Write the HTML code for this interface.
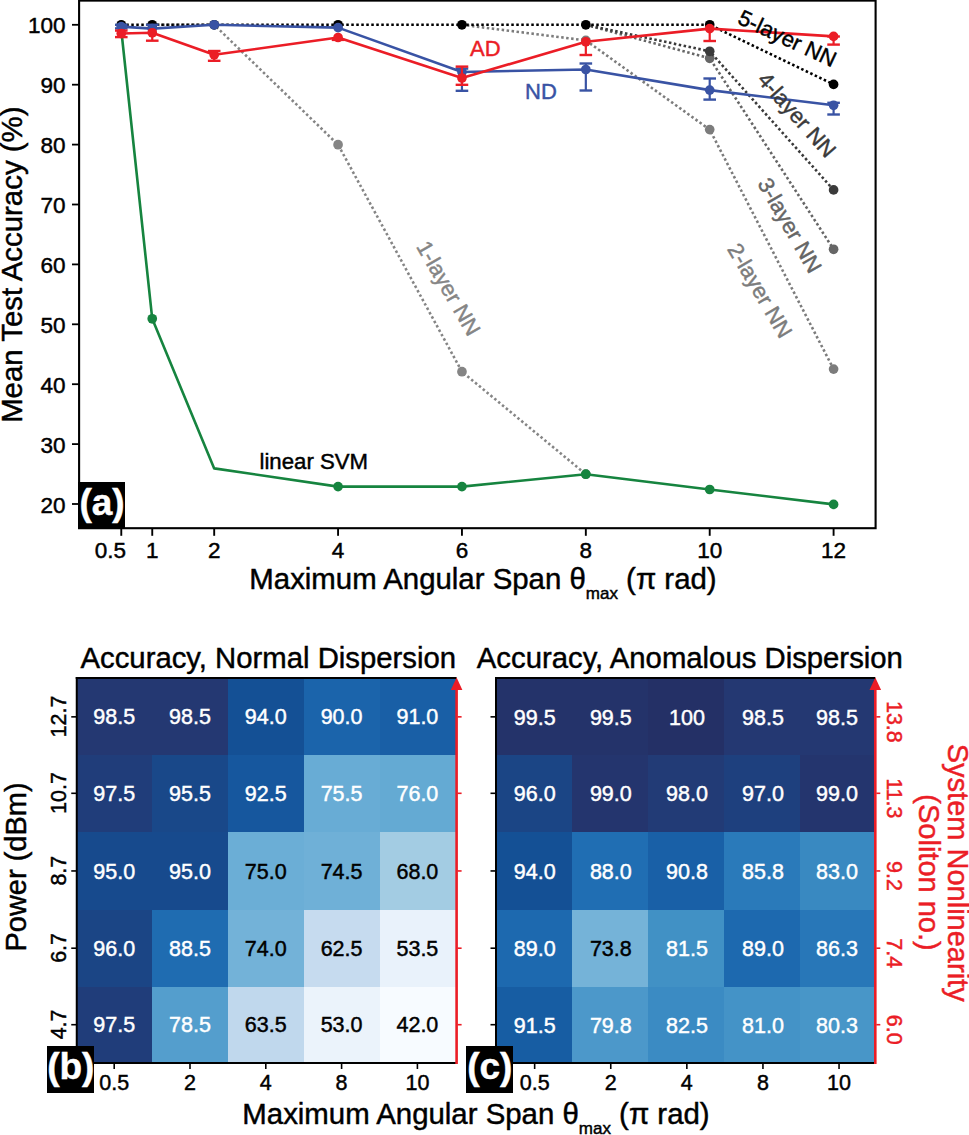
<!DOCTYPE html>
<html><head><meta charset="utf-8"><style>
html,body{margin:0;padding:0;background:#fff;width:969px;height:1135px;overflow:hidden}
svg{display:block}
text{font-family:"Liberation Sans", sans-serif}
</style></head><body>
<svg width="969" height="1135" viewBox="0 0 969 1135">
<rect width="969" height="1135" fill="#fff"/>
<polyline points="152.25,24.80 214.19,24.80 338.07,144.70 461.95,371.70 585.83,474.20" fill="none" stroke="#858585" stroke-width="2.6" stroke-dasharray="2.5 2.5" stroke-linejoin="round"/>
<circle cx="338.07" cy="144.70" r="4.85" fill="#858585"/>
<circle cx="461.95" cy="371.70" r="4.85" fill="#858585"/>
<circle cx="585.83" cy="474.20" r="4.85" fill="#858585"/>
<polyline points="461.95,24.80 585.83,40.40 709.71,129.60 833.59,369.10" fill="none" stroke="#7c7c7c" stroke-width="2.6" stroke-dasharray="2.5 2.5" stroke-linejoin="round"/>
<circle cx="585.83" cy="40.40" r="4.85" fill="#7c7c7c"/>
<circle cx="709.71" cy="129.60" r="4.85" fill="#7c7c7c"/>
<circle cx="833.59" cy="369.10" r="4.85" fill="#7c7c7c"/>
<polyline points="585.83,24.80 709.71,58.30 833.59,249.30" fill="none" stroke="#666666" stroke-width="2.6" stroke-dasharray="2.5 2.5" stroke-linejoin="round"/>
<circle cx="709.71" cy="58.30" r="4.85" fill="#666666"/>
<circle cx="833.59" cy="249.30" r="4.85" fill="#666666"/>
<polyline points="585.83,24.80 709.71,51.30 833.59,189.90" fill="none" stroke="#3a3a3a" stroke-width="2.6" stroke-dasharray="2.5 2.5" stroke-linejoin="round"/>
<circle cx="709.71" cy="51.30" r="4.85" fill="#3a3a3a"/>
<circle cx="833.59" cy="189.90" r="4.85" fill="#3a3a3a"/>
<polyline points="121.28,24.80 152.25,24.80 214.19,24.80 338.07,24.80 461.95,24.80 585.83,24.80 709.71,24.80 833.59,84.40" fill="none" stroke="#000" stroke-width="2.6" stroke-dasharray="2.5 2.5" stroke-linejoin="round"/>
<circle cx="121.28" cy="24.80" r="4.85" fill="#000"/>
<circle cx="152.25" cy="24.80" r="4.85" fill="#000"/>
<circle cx="214.19" cy="24.80" r="4.85" fill="#000"/>
<circle cx="338.07" cy="24.80" r="4.85" fill="#000"/>
<circle cx="461.95" cy="24.80" r="4.85" fill="#000"/>
<circle cx="585.83" cy="24.80" r="4.85" fill="#000"/>
<circle cx="709.71" cy="24.80" r="4.85" fill="#000"/>
<circle cx="833.59" cy="84.40" r="4.85" fill="#000"/>
<polyline points="121.28,30.00 152.25,318.80 214.19,468.40 338.07,486.60 461.95,486.60 585.83,474.20 709.71,489.50 833.59,504.40" fill="none" stroke="#16843f" stroke-width="2.6" stroke-linejoin="round"/>
<circle cx="152.25" cy="318.80" r="4.85" fill="#16843f"/>
<circle cx="338.07" cy="486.60" r="4.85" fill="#16843f"/>
<circle cx="461.95" cy="486.60" r="4.85" fill="#16843f"/>
<circle cx="585.83" cy="474.20" r="4.85" fill="#16843f"/>
<circle cx="709.71" cy="489.50" r="4.85" fill="#16843f"/>
<circle cx="833.59" cy="504.40" r="4.85" fill="#16843f"/>
<polyline points="121.28,26.60 152.25,28.60 214.19,24.80 338.07,27.60 461.95,72.00 585.83,69.50 709.71,90.10 833.59,105.30" fill="none" stroke="#3953a4" stroke-width="2.6" stroke-linejoin="round"/>
<line x1="121.28" y1="24.80" x2="121.28" y2="28.40" stroke="#3953a4" stroke-width="2.2"/>
<line x1="114.98" y1="24.80" x2="127.58" y2="24.80" stroke="#3953a4" stroke-width="2.4"/>
<line x1="114.98" y1="28.40" x2="127.58" y2="28.40" stroke="#3953a4" stroke-width="2.4"/>
<line x1="152.25" y1="24.80" x2="152.25" y2="28.80" stroke="#3953a4" stroke-width="2.2"/>
<line x1="145.95" y1="24.80" x2="158.55" y2="24.80" stroke="#3953a4" stroke-width="2.4"/>
<line x1="461.95" y1="68.60" x2="461.95" y2="90.80" stroke="#3953a4" stroke-width="2.2"/>
<line x1="455.65" y1="68.60" x2="468.25" y2="68.60" stroke="#3953a4" stroke-width="2.4"/>
<line x1="455.65" y1="90.80" x2="468.25" y2="90.80" stroke="#3953a4" stroke-width="2.4"/>
<line x1="585.83" y1="63.50" x2="585.83" y2="90.50" stroke="#3953a4" stroke-width="2.2"/>
<line x1="579.53" y1="63.50" x2="592.13" y2="63.50" stroke="#3953a4" stroke-width="2.4"/>
<line x1="579.53" y1="90.50" x2="592.13" y2="90.50" stroke="#3953a4" stroke-width="2.4"/>
<line x1="709.71" y1="78.50" x2="709.71" y2="99.60" stroke="#3953a4" stroke-width="2.2"/>
<line x1="703.41" y1="78.50" x2="716.01" y2="78.50" stroke="#3953a4" stroke-width="2.4"/>
<line x1="703.41" y1="99.60" x2="716.01" y2="99.60" stroke="#3953a4" stroke-width="2.4"/>
<line x1="833.59" y1="102.80" x2="833.59" y2="114.50" stroke="#3953a4" stroke-width="2.2"/>
<line x1="827.29" y1="102.80" x2="839.89" y2="102.80" stroke="#3953a4" stroke-width="2.4"/>
<line x1="827.29" y1="114.50" x2="839.89" y2="114.50" stroke="#3953a4" stroke-width="2.4"/>
<circle cx="121.28" cy="26.60" r="4.85" fill="#3953a4"/>
<circle cx="152.25" cy="28.60" r="4.85" fill="#3953a4"/>
<circle cx="214.19" cy="24.80" r="4.85" fill="#3953a4"/>
<circle cx="338.07" cy="27.60" r="4.85" fill="#3953a4"/>
<circle cx="461.95" cy="72.00" r="4.85" fill="#3953a4"/>
<circle cx="585.83" cy="69.50" r="4.85" fill="#3953a4"/>
<circle cx="709.71" cy="90.10" r="4.85" fill="#3953a4"/>
<circle cx="833.59" cy="105.30" r="4.85" fill="#3953a4"/>
<polyline points="121.28,33.50 152.25,32.80 214.19,54.80 338.07,37.50 461.95,78.00 585.83,41.80 709.71,28.60 833.59,36.40" fill="none" stroke="#eb1d26" stroke-width="2.6" stroke-linejoin="round"/>
<line x1="121.28" y1="30.60" x2="121.28" y2="37.10" stroke="#eb1d26" stroke-width="2.2"/>
<line x1="114.98" y1="30.60" x2="127.58" y2="30.60" stroke="#eb1d26" stroke-width="2.4"/>
<line x1="114.98" y1="37.10" x2="127.58" y2="37.10" stroke="#eb1d26" stroke-width="2.4"/>
<line x1="152.25" y1="32.80" x2="152.25" y2="40.70" stroke="#eb1d26" stroke-width="2.2"/>
<line x1="145.95" y1="40.70" x2="158.55" y2="40.70" stroke="#eb1d26" stroke-width="2.4"/>
<line x1="214.19" y1="51.00" x2="214.19" y2="60.80" stroke="#eb1d26" stroke-width="2.2"/>
<line x1="207.89" y1="51.00" x2="220.49" y2="51.00" stroke="#eb1d26" stroke-width="2.4"/>
<line x1="207.89" y1="60.80" x2="220.49" y2="60.80" stroke="#eb1d26" stroke-width="2.4"/>
<line x1="338.07" y1="37.50" x2="338.07" y2="39.90" stroke="#eb1d26" stroke-width="2.2"/>
<line x1="331.77" y1="39.90" x2="344.37" y2="39.90" stroke="#eb1d26" stroke-width="2.4"/>
<line x1="461.95" y1="66.60" x2="461.95" y2="84.80" stroke="#eb1d26" stroke-width="2.2"/>
<line x1="455.65" y1="66.60" x2="468.25" y2="66.60" stroke="#eb1d26" stroke-width="2.4"/>
<line x1="455.65" y1="84.80" x2="468.25" y2="84.80" stroke="#eb1d26" stroke-width="2.4"/>
<line x1="585.83" y1="41.80" x2="585.83" y2="55.00" stroke="#eb1d26" stroke-width="2.2"/>
<line x1="579.53" y1="55.00" x2="592.13" y2="55.00" stroke="#eb1d26" stroke-width="2.4"/>
<line x1="709.71" y1="28.60" x2="709.71" y2="41.00" stroke="#eb1d26" stroke-width="2.2"/>
<line x1="703.41" y1="41.00" x2="716.01" y2="41.00" stroke="#eb1d26" stroke-width="2.4"/>
<line x1="833.59" y1="36.50" x2="833.59" y2="44.60" stroke="#eb1d26" stroke-width="2.2"/>
<line x1="827.29" y1="36.50" x2="839.89" y2="36.50" stroke="#eb1d26" stroke-width="2.4"/>
<line x1="827.29" y1="44.60" x2="839.89" y2="44.60" stroke="#eb1d26" stroke-width="2.4"/>
<circle cx="121.28" cy="33.50" r="4.85" fill="#eb1d26"/>
<circle cx="152.25" cy="32.80" r="4.85" fill="#eb1d26"/>
<circle cx="214.19" cy="54.80" r="4.85" fill="#eb1d26"/>
<circle cx="338.07" cy="37.50" r="4.85" fill="#eb1d26"/>
<circle cx="461.95" cy="78.00" r="4.85" fill="#eb1d26"/>
<circle cx="585.83" cy="41.80" r="4.85" fill="#eb1d26"/>
<circle cx="709.71" cy="28.60" r="4.85" fill="#eb1d26"/>
<circle cx="833.59" cy="36.40" r="4.85" fill="#eb1d26"/>
<rect x="79.1" y="0.6" width="796.5" height="527.6" fill="none" stroke="#000" stroke-width="2.1"/>
<line x1="72" y1="504.00" x2="79" y2="504.00" stroke="#000" stroke-width="1.8"/>
<text stroke="#000" stroke-width="0.45" x="65.5" y="512.60" text-anchor="end" font-size="22.5">20</text>
<line x1="72" y1="444.10" x2="79" y2="444.10" stroke="#000" stroke-width="1.8"/>
<text stroke="#000" stroke-width="0.45" x="65.5" y="452.70" text-anchor="end" font-size="22.5">30</text>
<line x1="72" y1="384.20" x2="79" y2="384.20" stroke="#000" stroke-width="1.8"/>
<text stroke="#000" stroke-width="0.45" x="65.5" y="392.80" text-anchor="end" font-size="22.5">40</text>
<line x1="72" y1="324.30" x2="79" y2="324.30" stroke="#000" stroke-width="1.8"/>
<text stroke="#000" stroke-width="0.45" x="65.5" y="332.90" text-anchor="end" font-size="22.5">50</text>
<line x1="72" y1="264.40" x2="79" y2="264.40" stroke="#000" stroke-width="1.8"/>
<text stroke="#000" stroke-width="0.45" x="65.5" y="273.00" text-anchor="end" font-size="22.5">60</text>
<line x1="72" y1="204.50" x2="79" y2="204.50" stroke="#000" stroke-width="1.8"/>
<text stroke="#000" stroke-width="0.45" x="65.5" y="213.10" text-anchor="end" font-size="22.5">70</text>
<line x1="72" y1="144.60" x2="79" y2="144.60" stroke="#000" stroke-width="1.8"/>
<text stroke="#000" stroke-width="0.45" x="65.5" y="153.20" text-anchor="end" font-size="22.5">80</text>
<line x1="72" y1="84.70" x2="79" y2="84.70" stroke="#000" stroke-width="1.8"/>
<text stroke="#000" stroke-width="0.45" x="65.5" y="93.30" text-anchor="end" font-size="22.5">90</text>
<line x1="72" y1="24.80" x2="79" y2="24.80" stroke="#000" stroke-width="1.8"/>
<text stroke="#000" stroke-width="0.45" x="65.5" y="33.40" text-anchor="end" font-size="22.5">100</text>
<line x1="121.28" y1="528" x2="121.28" y2="535.8" stroke="#000" stroke-width="1.9"/>
<text stroke="#000" stroke-width="0.45" x="110.50" y="557.5" text-anchor="middle" font-size="22.5">0.5</text>
<line x1="152.25" y1="528" x2="152.25" y2="535.8" stroke="#000" stroke-width="1.9"/>
<text stroke="#000" stroke-width="0.45" x="152.25" y="557.5" text-anchor="middle" font-size="22.5">1</text>
<line x1="214.19" y1="528" x2="214.19" y2="535.8" stroke="#000" stroke-width="1.9"/>
<text stroke="#000" stroke-width="0.45" x="214.19" y="557.5" text-anchor="middle" font-size="22.5">2</text>
<line x1="338.07" y1="528" x2="338.07" y2="535.8" stroke="#000" stroke-width="1.9"/>
<text stroke="#000" stroke-width="0.45" x="338.07" y="557.5" text-anchor="middle" font-size="22.5">4</text>
<line x1="461.95" y1="528" x2="461.95" y2="535.8" stroke="#000" stroke-width="1.9"/>
<text stroke="#000" stroke-width="0.45" x="461.95" y="557.5" text-anchor="middle" font-size="22.5">6</text>
<line x1="585.83" y1="528" x2="585.83" y2="535.8" stroke="#000" stroke-width="1.9"/>
<text stroke="#000" stroke-width="0.45" x="585.83" y="557.5" text-anchor="middle" font-size="22.5">8</text>
<line x1="709.71" y1="528" x2="709.71" y2="535.8" stroke="#000" stroke-width="1.9"/>
<text stroke="#000" stroke-width="0.45" x="709.71" y="557.5" text-anchor="middle" font-size="22.5">10</text>
<line x1="833.59" y1="528" x2="833.59" y2="535.8" stroke="#000" stroke-width="1.9"/>
<text stroke="#000" stroke-width="0.45" x="833.59" y="557.5" text-anchor="middle" font-size="22.5">12</text>
<text stroke="#000" stroke-width="0.45" x="0" y="0" transform="translate(22.2,264.7) rotate(-90)" text-anchor="middle" font-size="29.4">Mean Test Accuracy (%)</text>
<text stroke="#000" stroke-width="0.45" x="249.3" y="588.9" font-size="29.4">Maximum Angular Span θ<tspan font-size="17" dy="10">max</tspan><tspan dy="-10"> (π rad)</tspan></text>
<text stroke="#000" stroke-width="0.45" x="259.5" y="468.8" font-size="22.2">linear SVM</text>
<text stroke="#eb1d26" stroke-width="0.45" x="470" y="56" font-size="22" fill="#eb1d26">AD</text>
<text stroke="#3953a4" stroke-width="0.45" x="525" y="98.7" font-size="22" fill="#3953a4">ND</text>
<text stroke="#000" stroke-width="0.45" x="0" y="0" transform="translate(736.5,23) rotate(25)" font-size="22" fill="#000">5-layer NN</text>
<text stroke="#3a3a3a" stroke-width="0.45" x="0" y="0" transform="translate(756.4,80.5) rotate(48.5)" font-size="22" fill="#3a3a3a">4-layer NN</text>
<text stroke="#666666" stroke-width="0.45" x="0" y="0" transform="translate(757,183.6) rotate(60)" font-size="22" fill="#666666">3-layer NN</text>
<text stroke="#7c7c7c" stroke-width="0.45" x="0" y="0" transform="translate(726.8,249) rotate(59.5)" font-size="22" fill="#7c7c7c">2-layer NN</text>
<text stroke="#858585" stroke-width="0.45" x="0" y="0" transform="translate(415.7,246.5) rotate(60)" font-size="22" fill="#858585">1-layer NN</text>
<rect x="78" y="482" width="47" height="47" fill="#000"/>
<text stroke="#fff" stroke-width="0.45" x="102" y="514.9" text-anchor="middle" font-size="37" font-weight="bold" fill="#fff">(a)</text>
<rect x="76.30" y="679.10" width="76.10" height="75.80" fill="#243872" shape-rendering="crispEdges"/>
<text stroke="#fff" stroke-width="0.45" x="114.20" y="724.45" text-anchor="middle" font-size="21.5" fill="#fff">98.5</text>
<rect x="152.10" y="679.10" width="76.10" height="75.80" fill="#243872" shape-rendering="crispEdges"/>
<text stroke="#fff" stroke-width="0.45" x="190.00" y="724.45" text-anchor="middle" font-size="21.5" fill="#fff">98.5</text>
<rect x="227.90" y="679.10" width="76.10" height="75.80" fill="#145095" shape-rendering="crispEdges"/>
<text stroke="#fff" stroke-width="0.45" x="265.80" y="724.45" text-anchor="middle" font-size="21.5" fill="#fff">94.0</text>
<rect x="303.70" y="679.10" width="76.10" height="75.80" fill="#1b64ab" shape-rendering="crispEdges"/>
<text stroke="#fff" stroke-width="0.45" x="341.60" y="724.45" text-anchor="middle" font-size="21.5" fill="#fff">90.0</text>
<rect x="379.50" y="679.10" width="76.10" height="75.80" fill="#195fa6" shape-rendering="crispEdges"/>
<text stroke="#fff" stroke-width="0.45" x="417.40" y="724.45" text-anchor="middle" font-size="21.5" fill="#fff">91.0</text>
<rect x="76.30" y="754.60" width="76.10" height="77.70" fill="#203d7a" shape-rendering="crispEdges"/>
<text stroke="#fff" stroke-width="0.45" x="114.20" y="800.90" text-anchor="middle" font-size="21.5" fill="#fff">97.5</text>
<rect x="152.10" y="754.60" width="76.10" height="77.70" fill="#194889" shape-rendering="crispEdges"/>
<text stroke="#fff" stroke-width="0.45" x="190.00" y="800.90" text-anchor="middle" font-size="21.5" fill="#fff">95.5</text>
<rect x="227.90" y="754.60" width="76.10" height="77.70" fill="#16579e" shape-rendering="crispEdges"/>
<text stroke="#fff" stroke-width="0.45" x="265.80" y="800.90" text-anchor="middle" font-size="21.5" fill="#fff">92.5</text>
<rect x="303.70" y="754.60" width="76.10" height="77.70" fill="#68acd5" shape-rendering="crispEdges"/>
<text stroke="#fff" stroke-width="0.45" x="341.60" y="800.90" text-anchor="middle" font-size="21.5" fill="#fff">75.5</text>
<rect x="379.50" y="754.60" width="76.10" height="77.70" fill="#64aad3" shape-rendering="crispEdges"/>
<text stroke="#fff" stroke-width="0.45" x="417.40" y="800.90" text-anchor="middle" font-size="21.5" fill="#fff">76.0</text>
<rect x="76.30" y="832.00" width="76.10" height="78.20" fill="#174a8d" shape-rendering="crispEdges"/>
<text stroke="#fff" stroke-width="0.45" x="114.20" y="878.55" text-anchor="middle" font-size="21.5" fill="#fff">95.0</text>
<rect x="152.10" y="832.00" width="76.10" height="78.20" fill="#174a8d" shape-rendering="crispEdges"/>
<text stroke="#fff" stroke-width="0.45" x="190.00" y="878.55" text-anchor="middle" font-size="21.5" fill="#fff">95.0</text>
<rect x="227.90" y="832.00" width="76.10" height="78.20" fill="#6baed6" shape-rendering="crispEdges"/>
<text stroke="#000" stroke-width="0.45" x="265.80" y="878.55" text-anchor="middle" font-size="21.5" fill="#000">75.0</text>
<rect x="303.70" y="832.00" width="76.10" height="78.20" fill="#6fb0d7" shape-rendering="crispEdges"/>
<text stroke="#000" stroke-width="0.45" x="341.60" y="878.55" text-anchor="middle" font-size="21.5" fill="#000">74.5</text>
<rect x="379.50" y="832.00" width="76.10" height="78.20" fill="#a3cce3" shape-rendering="crispEdges"/>
<text stroke="#000" stroke-width="0.45" x="417.40" y="878.55" text-anchor="middle" font-size="21.5" fill="#000">68.0</text>
<rect x="76.30" y="909.90" width="76.10" height="76.90" fill="#1b4585" shape-rendering="crispEdges"/>
<text stroke="#fff" stroke-width="0.45" x="114.20" y="955.80" text-anchor="middle" font-size="21.5" fill="#fff">96.0</text>
<rect x="152.10" y="909.90" width="76.10" height="76.90" fill="#1f6cb1" shape-rendering="crispEdges"/>
<text stroke="#fff" stroke-width="0.45" x="190.00" y="955.80" text-anchor="middle" font-size="21.5" fill="#fff">88.5</text>
<rect x="227.90" y="909.90" width="76.10" height="76.90" fill="#73b2d8" shape-rendering="crispEdges"/>
<text stroke="#000" stroke-width="0.45" x="265.80" y="955.80" text-anchor="middle" font-size="21.5" fill="#000">74.0</text>
<rect x="303.70" y="909.90" width="76.10" height="76.90" fill="#c6dbef" shape-rendering="crispEdges"/>
<text stroke="#000" stroke-width="0.45" x="341.60" y="955.80" text-anchor="middle" font-size="21.5" fill="#000">62.5</text>
<rect x="379.50" y="909.90" width="76.10" height="76.90" fill="#e9f2fb" shape-rendering="crispEdges"/>
<text stroke="#000" stroke-width="0.45" x="417.40" y="955.80" text-anchor="middle" font-size="21.5" fill="#000">53.5</text>
<rect x="76.30" y="986.50" width="76.10" height="76.70" fill="#203d7a" shape-rendering="crispEdges"/>
<text stroke="#fff" stroke-width="0.45" x="114.20" y="1032.30" text-anchor="middle" font-size="21.5" fill="#fff">97.5</text>
<rect x="152.10" y="986.50" width="76.10" height="76.70" fill="#549ecd" shape-rendering="crispEdges"/>
<text stroke="#fff" stroke-width="0.45" x="190.00" y="1032.30" text-anchor="middle" font-size="21.5" fill="#fff">78.5</text>
<rect x="227.90" y="986.50" width="76.10" height="76.70" fill="#c0d8ed" shape-rendering="crispEdges"/>
<text stroke="#000" stroke-width="0.45" x="265.80" y="1032.30" text-anchor="middle" font-size="21.5" fill="#000">63.5</text>
<rect x="303.70" y="986.50" width="76.10" height="76.70" fill="#ebf3fb" shape-rendering="crispEdges"/>
<text stroke="#000" stroke-width="0.45" x="341.60" y="1032.30" text-anchor="middle" font-size="21.5" fill="#000">53.0</text>
<rect x="379.50" y="986.50" width="76.10" height="76.70" fill="#f7fbff" shape-rendering="crispEdges"/>
<text stroke="#000" stroke-width="0.45" x="417.40" y="1032.30" text-anchor="middle" font-size="21.5" fill="#000">42.0</text>
<line x1="75.75" y1="678.1" x2="456.60" y2="678.1" stroke="#000" stroke-width="2"/>
<line x1="75.75" y1="1063" x2="456.60" y2="1063" stroke="#000" stroke-width="2"/>
<line x1="76.75" y1="677.1" x2="76.75" y2="1064" stroke="#000" stroke-width="2"/>
<line x1="456.60" y1="688" x2="456.60" y2="1064" stroke="#eb1d26" stroke-width="2.6"/>
<polygon points="450.80,690 462.40,690 456.60,677.5" fill="#eb1d26"/>
<line x1="71.25" y1="716.85" x2="76.75" y2="716.85" stroke="#000" stroke-width="1.6"/>
<line x1="457.60" y1="716.85" x2="461.60" y2="716.85" stroke="#eb1d26" stroke-width="1.6"/>
<line x1="71.25" y1="793.30" x2="76.75" y2="793.30" stroke="#000" stroke-width="1.6"/>
<line x1="457.60" y1="793.30" x2="461.60" y2="793.30" stroke="#eb1d26" stroke-width="1.6"/>
<line x1="71.25" y1="870.95" x2="76.75" y2="870.95" stroke="#000" stroke-width="1.6"/>
<line x1="457.60" y1="870.95" x2="461.60" y2="870.95" stroke="#eb1d26" stroke-width="1.6"/>
<line x1="71.25" y1="948.20" x2="76.75" y2="948.20" stroke="#000" stroke-width="1.6"/>
<line x1="457.60" y1="948.20" x2="461.60" y2="948.20" stroke="#eb1d26" stroke-width="1.6"/>
<line x1="71.25" y1="1024.70" x2="76.75" y2="1024.70" stroke="#000" stroke-width="1.6"/>
<line x1="457.60" y1="1024.70" x2="461.60" y2="1024.70" stroke="#eb1d26" stroke-width="1.6"/>
<line x1="114.20" y1="1063" x2="114.20" y2="1069" stroke="#000" stroke-width="1.6"/>
<text stroke="#000" stroke-width="0.45" x="114.20" y="1090" text-anchor="middle" font-size="21.5">0.5</text>
<line x1="190.00" y1="1063" x2="190.00" y2="1069" stroke="#000" stroke-width="1.6"/>
<text stroke="#000" stroke-width="0.45" x="190.00" y="1090" text-anchor="middle" font-size="21.5">2</text>
<line x1="265.80" y1="1063" x2="265.80" y2="1069" stroke="#000" stroke-width="1.6"/>
<text stroke="#000" stroke-width="0.45" x="265.80" y="1090" text-anchor="middle" font-size="21.5">4</text>
<line x1="341.60" y1="1063" x2="341.60" y2="1069" stroke="#000" stroke-width="1.6"/>
<text stroke="#000" stroke-width="0.45" x="341.60" y="1090" text-anchor="middle" font-size="21.5">8</text>
<line x1="417.40" y1="1063" x2="417.40" y2="1069" stroke="#000" stroke-width="1.6"/>
<text stroke="#000" stroke-width="0.45" x="417.40" y="1090" text-anchor="middle" font-size="21.5">10</text>
<rect x="495.50" y="679.10" width="76.40" height="75.80" fill="#24336a" shape-rendering="crispEdges"/>
<text stroke="#fff" stroke-width="0.45" x="534.75" y="724.95" text-anchor="middle" font-size="21.5" fill="#fff">99.5</text>
<rect x="571.60" y="679.10" width="76.40" height="75.80" fill="#24336a" shape-rendering="crispEdges"/>
<text stroke="#fff" stroke-width="0.45" x="610.85" y="724.95" text-anchor="middle" font-size="21.5" fill="#fff">99.5</text>
<rect x="647.70" y="679.10" width="76.40" height="75.80" fill="#243066" shape-rendering="crispEdges"/>
<text stroke="#fff" stroke-width="0.45" x="686.95" y="724.95" text-anchor="middle" font-size="21.5" fill="#fff">100</text>
<rect x="723.80" y="679.10" width="76.40" height="75.80" fill="#243872" shape-rendering="crispEdges"/>
<text stroke="#fff" stroke-width="0.45" x="763.05" y="724.95" text-anchor="middle" font-size="21.5" fill="#fff">98.5</text>
<rect x="799.90" y="679.10" width="76.40" height="75.80" fill="#243872" shape-rendering="crispEdges"/>
<text stroke="#fff" stroke-width="0.45" x="836.95" y="724.95" text-anchor="middle" font-size="21.5" fill="#fff">98.5</text>
<rect x="495.50" y="754.60" width="76.40" height="77.70" fill="#1b4585" shape-rendering="crispEdges"/>
<text stroke="#fff" stroke-width="0.45" x="534.75" y="801.40" text-anchor="middle" font-size="21.5" fill="#fff">96.0</text>
<rect x="571.60" y="754.60" width="76.40" height="77.70" fill="#24356e" shape-rendering="crispEdges"/>
<text stroke="#fff" stroke-width="0.45" x="610.85" y="801.40" text-anchor="middle" font-size="21.5" fill="#fff">99.0</text>
<rect x="647.70" y="754.60" width="76.40" height="77.70" fill="#223b76" shape-rendering="crispEdges"/>
<text stroke="#fff" stroke-width="0.45" x="686.95" y="801.40" text-anchor="middle" font-size="21.5" fill="#fff">98.0</text>
<rect x="723.80" y="754.60" width="76.40" height="77.70" fill="#1e407e" shape-rendering="crispEdges"/>
<text stroke="#fff" stroke-width="0.45" x="763.05" y="801.40" text-anchor="middle" font-size="21.5" fill="#fff">97.0</text>
<rect x="799.90" y="754.60" width="76.40" height="77.70" fill="#24356e" shape-rendering="crispEdges"/>
<text stroke="#fff" stroke-width="0.45" x="836.95" y="801.40" text-anchor="middle" font-size="21.5" fill="#fff">99.0</text>
<rect x="495.50" y="832.00" width="76.40" height="78.20" fill="#145095" shape-rendering="crispEdges"/>
<text stroke="#fff" stroke-width="0.45" x="534.75" y="879.05" text-anchor="middle" font-size="21.5" fill="#fff">94.0</text>
<rect x="571.60" y="832.00" width="76.40" height="78.20" fill="#206eb3" shape-rendering="crispEdges"/>
<text stroke="#fff" stroke-width="0.45" x="610.85" y="879.05" text-anchor="middle" font-size="21.5" fill="#fff">88.0</text>
<rect x="647.70" y="832.00" width="76.40" height="78.20" fill="#1960a7" shape-rendering="crispEdges"/>
<text stroke="#fff" stroke-width="0.45" x="686.95" y="879.05" text-anchor="middle" font-size="21.5" fill="#fff">90.8</text>
<rect x="723.80" y="832.00" width="76.40" height="78.20" fill="#2a7aba" shape-rendering="crispEdges"/>
<text stroke="#fff" stroke-width="0.45" x="763.05" y="879.05" text-anchor="middle" font-size="21.5" fill="#fff">85.8</text>
<rect x="799.90" y="832.00" width="76.40" height="78.20" fill="#3989c1" shape-rendering="crispEdges"/>
<text stroke="#fff" stroke-width="0.45" x="836.95" y="879.05" text-anchor="middle" font-size="21.5" fill="#fff">83.0</text>
<rect x="495.50" y="909.90" width="76.40" height="76.90" fill="#1d69af" shape-rendering="crispEdges"/>
<text stroke="#fff" stroke-width="0.45" x="534.75" y="956.30" text-anchor="middle" font-size="21.5" fill="#fff">89.0</text>
<rect x="571.60" y="909.90" width="76.40" height="76.90" fill="#75b3d8" shape-rendering="crispEdges"/>
<text stroke="#000" stroke-width="0.45" x="610.85" y="956.30" text-anchor="middle" font-size="21.5" fill="#000">73.8</text>
<rect x="647.70" y="909.90" width="76.40" height="76.90" fill="#4191c5" shape-rendering="crispEdges"/>
<text stroke="#fff" stroke-width="0.45" x="686.95" y="956.30" text-anchor="middle" font-size="21.5" fill="#fff">81.5</text>
<rect x="723.80" y="909.90" width="76.40" height="76.90" fill="#1d69af" shape-rendering="crispEdges"/>
<text stroke="#fff" stroke-width="0.45" x="763.05" y="956.30" text-anchor="middle" font-size="21.5" fill="#fff">89.0</text>
<rect x="799.90" y="909.90" width="76.40" height="76.90" fill="#2877b8" shape-rendering="crispEdges"/>
<text stroke="#fff" stroke-width="0.45" x="836.95" y="956.30" text-anchor="middle" font-size="21.5" fill="#fff">86.3</text>
<rect x="495.50" y="986.50" width="76.40" height="76.70" fill="#175da3" shape-rendering="crispEdges"/>
<text stroke="#fff" stroke-width="0.45" x="534.75" y="1032.80" text-anchor="middle" font-size="21.5" fill="#fff">91.5</text>
<rect x="571.60" y="986.50" width="76.40" height="76.70" fill="#4c98ca" shape-rendering="crispEdges"/>
<text stroke="#fff" stroke-width="0.45" x="610.85" y="1032.80" text-anchor="middle" font-size="21.5" fill="#fff">79.8</text>
<rect x="647.70" y="986.50" width="76.40" height="76.70" fill="#3b8bc3" shape-rendering="crispEdges"/>
<text stroke="#fff" stroke-width="0.45" x="686.95" y="1032.80" text-anchor="middle" font-size="21.5" fill="#fff">82.5</text>
<rect x="723.80" y="986.50" width="76.40" height="76.70" fill="#4493c7" shape-rendering="crispEdges"/>
<text stroke="#fff" stroke-width="0.45" x="763.05" y="1032.80" text-anchor="middle" font-size="21.5" fill="#fff">81.0</text>
<rect x="799.90" y="986.50" width="76.40" height="76.70" fill="#4896c8" shape-rendering="crispEdges"/>
<text stroke="#fff" stroke-width="0.45" x="836.95" y="1032.80" text-anchor="middle" font-size="21.5" fill="#fff">80.3</text>
<line x1="495.00" y1="678.1" x2="875.30" y2="678.1" stroke="#000" stroke-width="2"/>
<line x1="495.00" y1="1063" x2="875.30" y2="1063" stroke="#000" stroke-width="2"/>
<line x1="496.00" y1="677.1" x2="496.00" y2="1064" stroke="#000" stroke-width="2"/>
<line x1="875.30" y1="688" x2="875.30" y2="1064" stroke="#eb1d26" stroke-width="2.6"/>
<polygon points="869.50,690 881.10,690 875.30,677.5" fill="#eb1d26"/>
<line x1="490.50" y1="716.85" x2="496.00" y2="716.85" stroke="#000" stroke-width="1.6"/>
<line x1="876.30" y1="716.85" x2="880.30" y2="716.85" stroke="#eb1d26" stroke-width="1.6"/>
<line x1="490.50" y1="793.30" x2="496.00" y2="793.30" stroke="#000" stroke-width="1.6"/>
<line x1="876.30" y1="793.30" x2="880.30" y2="793.30" stroke="#eb1d26" stroke-width="1.6"/>
<line x1="490.50" y1="870.95" x2="496.00" y2="870.95" stroke="#000" stroke-width="1.6"/>
<line x1="876.30" y1="870.95" x2="880.30" y2="870.95" stroke="#eb1d26" stroke-width="1.6"/>
<line x1="490.50" y1="948.20" x2="496.00" y2="948.20" stroke="#000" stroke-width="1.6"/>
<line x1="876.30" y1="948.20" x2="880.30" y2="948.20" stroke="#eb1d26" stroke-width="1.6"/>
<line x1="490.50" y1="1024.70" x2="496.00" y2="1024.70" stroke="#000" stroke-width="1.6"/>
<line x1="876.30" y1="1024.70" x2="880.30" y2="1024.70" stroke="#eb1d26" stroke-width="1.6"/>
<line x1="534.65" y1="1063" x2="534.65" y2="1069" stroke="#000" stroke-width="1.6"/>
<text stroke="#000" stroke-width="0.45" x="534.65" y="1090" text-anchor="middle" font-size="21.5">0.5</text>
<line x1="610.75" y1="1063" x2="610.75" y2="1069" stroke="#000" stroke-width="1.6"/>
<text stroke="#000" stroke-width="0.45" x="610.75" y="1090" text-anchor="middle" font-size="21.5">2</text>
<line x1="686.85" y1="1063" x2="686.85" y2="1069" stroke="#000" stroke-width="1.6"/>
<text stroke="#000" stroke-width="0.45" x="686.85" y="1090" text-anchor="middle" font-size="21.5">4</text>
<line x1="762.95" y1="1063" x2="762.95" y2="1069" stroke="#000" stroke-width="1.6"/>
<text stroke="#000" stroke-width="0.45" x="762.95" y="1090" text-anchor="middle" font-size="21.5">8</text>
<line x1="839.05" y1="1063" x2="839.05" y2="1069" stroke="#000" stroke-width="1.6"/>
<text stroke="#000" stroke-width="0.45" x="839.05" y="1090" text-anchor="middle" font-size="21.5">10</text>
<text stroke="#000" stroke-width="0.45" x="0" y="0" transform="translate(66.2,716.55) rotate(-90)" text-anchor="middle" font-size="21.5">12.7</text>
<text stroke="#000" stroke-width="0.45" x="0" y="0" transform="translate(66.2,793.00) rotate(-90)" text-anchor="middle" font-size="21.5">10.7</text>
<text stroke="#000" stroke-width="0.45" x="0" y="0" transform="translate(66.2,870.65) rotate(-90)" text-anchor="middle" font-size="21.5">8.7</text>
<text stroke="#000" stroke-width="0.45" x="0" y="0" transform="translate(66.2,947.90) rotate(-90)" text-anchor="middle" font-size="21.5">6.7</text>
<text stroke="#000" stroke-width="0.45" x="0" y="0" transform="translate(66.2,1024.40) rotate(-90)" text-anchor="middle" font-size="21.5">4.7</text>
<text stroke="#eb1d26" stroke-width="0.45" x="0" y="0" transform="translate(887.4,721.85) rotate(90)" text-anchor="middle" font-size="21.5" fill="#eb1d26">13.8</text>
<text stroke="#eb1d26" stroke-width="0.45" x="0" y="0" transform="translate(887.4,798.30) rotate(90)" text-anchor="middle" font-size="21.5" fill="#eb1d26">11.3</text>
<text stroke="#eb1d26" stroke-width="0.45" x="0" y="0" transform="translate(887.4,875.95) rotate(90)" text-anchor="middle" font-size="21.5" fill="#eb1d26">9.2</text>
<text stroke="#eb1d26" stroke-width="0.45" x="0" y="0" transform="translate(887.4,953.20) rotate(90)" text-anchor="middle" font-size="21.5" fill="#eb1d26">7.4</text>
<text stroke="#eb1d26" stroke-width="0.45" x="0" y="0" transform="translate(887.4,1029.70) rotate(90)" text-anchor="middle" font-size="21.5" fill="#eb1d26">6.0</text>
<text stroke="#000" stroke-width="0.45" x="0" y="0" transform="translate(25.5,867) rotate(-90)" text-anchor="middle" font-size="29">Power (dBm)</text>
<text stroke="#eb1d26" stroke-width="0.45" x="0" y="0" transform="translate(948,872.7) rotate(90)" text-anchor="middle" font-size="29" fill="#eb1d26">System Nonlinearity</text>
<text stroke="#eb1d26" stroke-width="0.45" x="0" y="0" transform="translate(918.5,872.5) rotate(90)" text-anchor="middle" font-size="29" fill="#eb1d26">(Soliton no.)</text>
<text stroke="#000" stroke-width="0.45" x="80.5" y="667.5" font-size="29.3">Accuracy, Normal Dispersion</text>
<text stroke="#000" stroke-width="0.45" x="476.8" y="667.5" font-size="29.3">Accuracy, Anomalous Dispersion</text>
<text stroke="#000" stroke-width="0.45" x="242.3" y="1124.2" font-size="29.4">Maximum Angular Span θ<tspan font-size="17" dy="10">max</tspan><tspan dy="-10"> (π rad)</tspan></text>
<rect x="47" y="1046" width="47" height="47" fill="#000"/>
<text stroke="#fff" stroke-width="0.45" x="70.8" y="1078.7" text-anchor="middle" font-size="37" font-weight="bold" fill="#fff">(b)</text>
<rect x="466" y="1046" width="47" height="47" fill="#000"/>
<text stroke="#fff" stroke-width="0.45" x="489.8" y="1078.7" text-anchor="middle" font-size="37" font-weight="bold" fill="#fff">(c)</text>
</svg></body></html>
